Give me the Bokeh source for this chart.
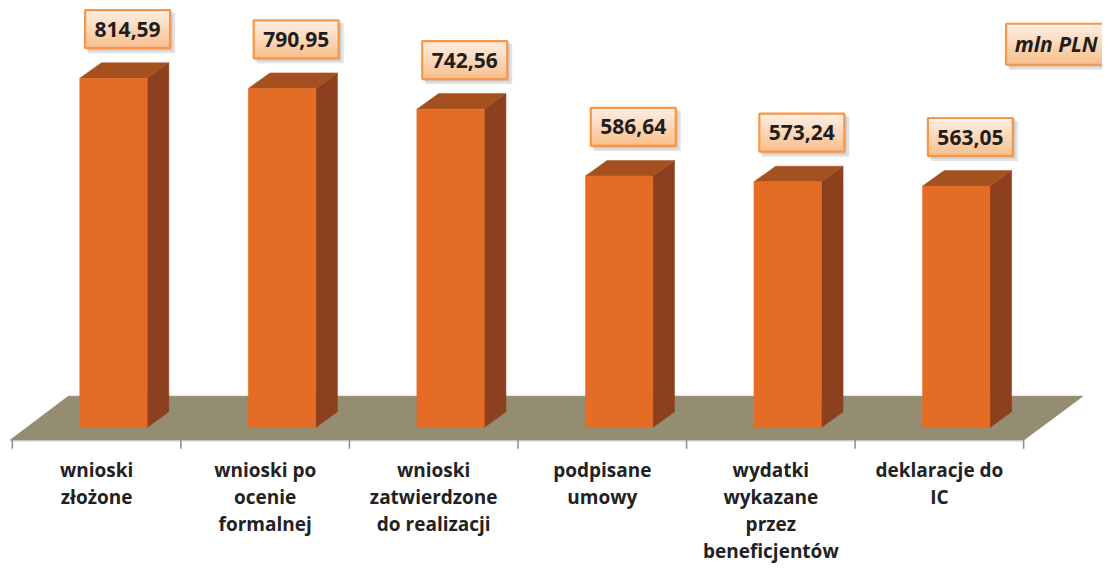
from bokeh.plotting import figure
from bokeh.models import Range1d
from bokeh.embed import file_html
from bokeh.resources import INLINE
from bokeh.core.properties import value

# ---- data ----
categories = [
    "wnioski\nzłożone",
    "wnioski po\nocenie\nformalnej",
    "wnioski\nzatwierdzone\ndo realizacji",
    "podpisane\numowy",
    "wydatki\nwykazane\nprzez\nbeneficjentów",
    "deklaracje do\nIC",
]
values = [814.59, 790.95, 742.56, 586.64, 573.24, 563.05]
value_labels = ["814,59", "790,95", "742,56", "586,64", "573,24", "563,05"]
unit_label = "mln PLN"

# ---- layout constants ----
W, H = 1102, 566
PX_X = 171.0 * W / 1118     # screen px per category
PX_Y = 0.4407 * H / 582     # screen px per value unit
RX, RY = 171.0, 0.4407      # design-space scale

p = figure(width=W, height=H, output_backend="svg", toolbar_location=None,
           x_range=Range1d(-12 / RX, (1118 - 12) / RX),
           y_range=Range1d((439 - 582) / RY, 439 / RY),
           x_axis_type=None, y_axis_type=None, min_border=0)
p.grid.visible = False
p.outline_line_color = None
p.background_fill_color = "white"
p.border_fill_color = "white"

n = len(values)
dx = 22 / RX
dy = 16 / RY

# floor
f_front = -13 / RY
f_back = 32 / RY
f_off = 59 / RX
p.patch([-0.012, n, n + f_off + 0.005, f_off - 0.012],
        [f_front, f_front, f_back, f_back],
        fill_color="#958D71", line_color="#958D71", line_width=1)
# axis line + ticks
p.segment(x0=[0], y0=[f_front - 1 / RY], x1=[n], y1=[f_front - 1 / RY],
          line_color="#D0D0D0", line_width=1)
ticks = list(range(n + 1))
p.segment(x0=ticks, y0=[f_front] * len(ticks), x1=ticks,
          y1=[f_front - 9 / RY] * len(ticks), line_color="#8C8C8C", line_width=1.5)

# bars
lefts = [i + 0.40 for i in range(n)]
rights = [i + 0.80 for i in range(n)]
side_xs = [[r, r + dx, r + dx, r] for r in rights]
side_ys = [[0, dy, v + dy, v] for v in values]
top_xs = [[l, r, r + dx, l + dx] for l, r in zip(lefts, rights)]
top_ys = [[v, v, v + dy, v + dy] for v in values]
p.patches(side_xs, side_ys, fill_color="#8D401F", line_color="#8D401F", line_width=0.5)
p.patches(top_xs, top_ys, fill_color="#A4501F", line_color="#A4501F", line_width=0.5)
p.quad(left=lefts, right=rights, bottom=[0] * n, top=values,
       fill_color="#E46C24", line_color="#E46C24", line_width=0.5)

# value label boxes
bx = [i + 0.684 for i in range(n)]
by = [v + 50.5 / RY for v in values]
BW, BH = 85, 38


def lerp(c1, c2, t):
    return "#%02x%02x%02x" % tuple(int(round(a + (b - a) * t)) for a, b in zip(c1, c2))


top_c = (254, 238, 226)
bot_c = (249, 192, 143)
NB = 13


def gradient_box(xs, ys, w, h):
    # soft shadow
    p.rect(x=[x + 4 / PX_X for x in xs], y=[y - 4 / PX_Y for y in ys], width=w + 2, height=h + 2,
           width_units="screen", height_units="screen", fill_color="#7a7a7a",
           fill_alpha=0.22, line_color=None)
    p.rect(x=[x + 2 / PX_X for x in xs], y=[y - 2 / PX_Y for y in ys], width=w + 1, height=h + 1,
           width_units="screen", height_units="screen", fill_color="#7a7a7a",
           fill_alpha=0.22, line_color=None)
    bh = h / NB
    for k in range(NB):
        off = h / 2 - bh * (k + 0.5)
        p.rect(x=xs, y=[y + off / PX_Y for y in ys], width=w, height=bh + 0.6,
               width_units="screen", height_units="screen",
               fill_color=lerp(top_c, bot_c, k / (NB - 1)), line_color=None)
    p.rect(x=xs, y=ys, width=w, height=h, width_units="screen", height_units="screen",
           fill_color=None, line_color="#F79646", line_width=2.2)


gradient_box(bx, by, BW, BH)
p.text(x=bx, y=by, text=value_labels, text_align="center", text_baseline="middle",
       text_font=value("Open Sans"), text_font_style="bold", text_font_size="21px",
       text_color="#1e1e1e")

# unit label box (partly off the right edge, as in the original)
ux = (1020 + 55 - 12) / RX
uy = (439 - 45) / RY
gradient_box([ux], [uy], 108, 41)
p.text(x=[(1029 - 12) / RX], y=[uy], text=[unit_label], text_align="left",
       text_baseline="middle", text_font=value("Open Sans"), text_font_style="bold italic",
       text_font_size="21px", text_color="#1e1e1e")

# category labels
lx, ly, lt = [], [], []
for i, c in enumerate(categories):
    for j, line in enumerate(c.split("\n")):
        lx.append(i + 0.5)
        ly.append((439 - 483 - 27.6 * j) / RY)
        lt.append(line)
p.text(x=lx, y=ly, text=lt, text_align="center", text_baseline="middle",
       text_font=value("Open Sans"), text_font_style="bold", text_font_size="19px",
       text_color="#222222")

open("out.html", "w").write(file_html(p, INLINE))
